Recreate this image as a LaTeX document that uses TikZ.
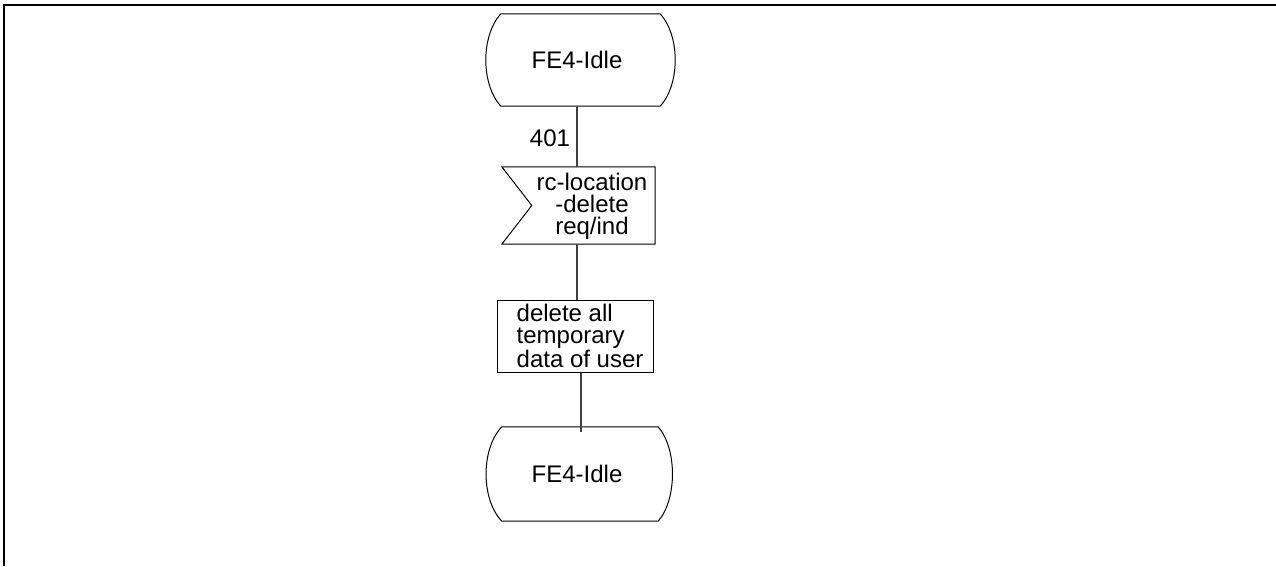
\documentclass[tikz,border=0pt]{standalone}
\usepackage{fontspec}
\setmainfont{Liberation Sans}
\begin{document}
\begin{tikzpicture}[x=1pt,y=-1pt,
  outline/.style={line width=1pt, black},
  flow/.style={line width=1.2pt, black!75},
  frameline/.style={line width=2.5pt, black},
  lbl/.style={font=\fontsize{24}{22}\selectfont, inner sep=0pt},
  area/.style={inner sep=0pt, draw=none}]
\useasboundingbox (0,0) rectangle (1276,566);
% page frame
\draw[frameline] (1276,5) -- (4,5) -- (4,566);

% start state
\node[area, minimum width=159pt, minimum height=92pt] (idle1) at (580.5,60) {};
\node[lbl] (idle1t) at (577,60) {FE4-Idle};
\draw[outline] (idle1.north west) -- (idle1.north east)
  .. controls +(20,22) and +(20,-22) .. (idle1.south east)
  -- (idle1.south west)
  .. controls +(-20,-22) and +(-20,22) .. (idle1.north west);

% input signal
\node[area, minimum width=153pt, minimum height=77pt] (sig) at (578.5,205.5) {};
\node[lbl, align=center] (sigt) at (592,206) {rc-location\\-delete\\req/ind};
\draw[outline] (sig.north west) -- (sig.north east) -- (sig.south east)
  -- (sig.south west) -- ([xshift=30pt]sig.west) -- cycle;
\node[lbl] (n401) at (550,138) {401};

% task
\node[area, draw, outline, minimum width=156pt, minimum height=72pt] (task) at (575,336) {};
\node[lbl, align=left, anchor=west] (taskt) at ([xshift=20pt]task.west) {delete all\\temporary\\data of user};

% next state
\node[area, minimum width=156pt, minimum height=94pt] (idle2) at (580,474) {};
\node[lbl] (idle2t) at (577,474) {FE4-Idle};
\draw[outline] (idle2.north west) -- (idle2.north east)
  .. controls +(19,22) and +(19,-22) .. (idle2.south east)
  -- (idle2.south west)
  .. controls +(-21,-22) and +(-21,22) .. (idle2.north west);

% connectors
\coordinate (c3) at (581,0);
\draw[flow] (idle1t |- idle1.south) -- (idle1t |- sig.north);
\draw[flow] (idle1t |- sig.south) -- (idle1t |- task.north);
\draw[flow] (c3 |- task.south) -- ([yshift=-5pt]c3 |- idle2.north);
\end{tikzpicture}
\end{document}
